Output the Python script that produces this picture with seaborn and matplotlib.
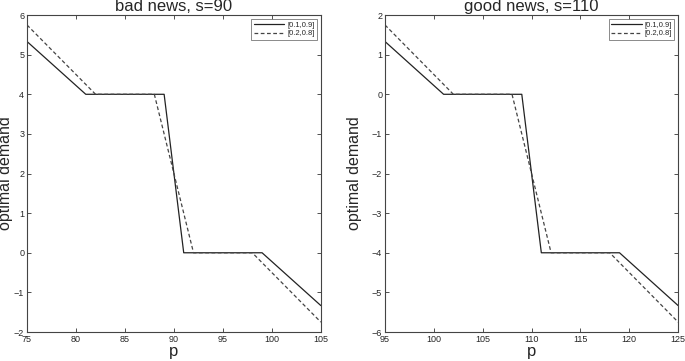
import numpy as np
import pandas as pd
import matplotlib
matplotlib.use("Agg")
import matplotlib.pyplot as plt
import seaborn as sns

# breakpoints
p_bad_a = [75, 81, 89, 91, 99, 105]
d_bad_a = [5.333, 4, 4, 0, 0, -1.333]
p_bad_b = [75, 82, 88, 92, 98, 105]
d_bad_b = [5.75, 4, 4, 0, 0, -1.75]

p_good_a = [95, 101, 109, 111, 119, 125]
d_good_a = [1.333, 0, 0, -4, -4, -5.333]
p_good_b = [95, 102, 108, 112, 118, 125]
d_good_b = [1.75, 0, 0, -4, -4, -5.75]

labels = ["[0.1,0.9]", "[0.2,0.8]"]

sns.set_theme(style="white")
plt.rcParams['font.family'] = ['Liberation Sans', 'DejaVu Sans']

fig = plt.figure(figsize=(6.85, 3.61), dpi=100)
ax1 = fig.add_axes([0.0394, 0.0803, 0.429, 0.878])
ax2 = fig.add_axes([0.562, 0.0803, 0.428, 0.878])

panels = [
    (ax1, p_bad_a, d_bad_a, p_bad_b, d_bad_b, "bad news, s=90", (75, 105), (-2, 6)),
    (ax2, p_good_a, d_good_a, p_good_b, d_good_b, "good news, s=110", (95, 125), (-6, 2)),
]

for ax, pa, da, pb, db, title, xl, yl in panels:
    df = pd.concat([
        pd.DataFrame({"p": pa, "d": da, "s": labels[0]}),
        pd.DataFrame({"p": pb, "d": db, "s": labels[1]}),
    ])
    sns.lineplot(data=df, x="p", y="d", hue="s", style="s",
                 palette=["#222222", "#444444"], dashes=[(None, None), (3, 2)],
                 linewidth=0.9, sort=False, estimator=None, ax=ax)
    ax.set_xlim(*xl)
    ax.set_ylim(*yl)
    ax.set_xticks(np.arange(xl[0], xl[1] + 1, 5))
    ax.set_yticks(np.arange(yl[0], yl[1] + 1, 1))
    ax.tick_params(direction="in", length=3, width=0.6, labelsize=6.5,
                   top=True, right=True, bottom=True, left=True, color="#333333", pad=2)
    for sp in ax.spines.values():
        sp.set_color("#444444")
        sp.set_linewidth(0.8)
    ax.set_title(title, fontsize=12, pad=3)
    ax.set_xlabel("p", fontsize=12, labelpad=0)
    ax.set_ylabel("optimal demand", fontsize=11.5)
    leg = ax.legend(loc="upper right", fontsize=5.5, frameon=True, fancybox=False,
                    handlelength=4, borderpad=0.3, labelspacing=0.2, handletextpad=0.4)
    leg.get_frame().set_edgecolor("#555555")
    leg.get_frame().set_linewidth(0.6)

ax1.yaxis.set_label_coords(-0.046, 0.5)
ax2.yaxis.set_label_coords(-0.077, 0.5)

fig.savefig("out.png", dpi=100)
